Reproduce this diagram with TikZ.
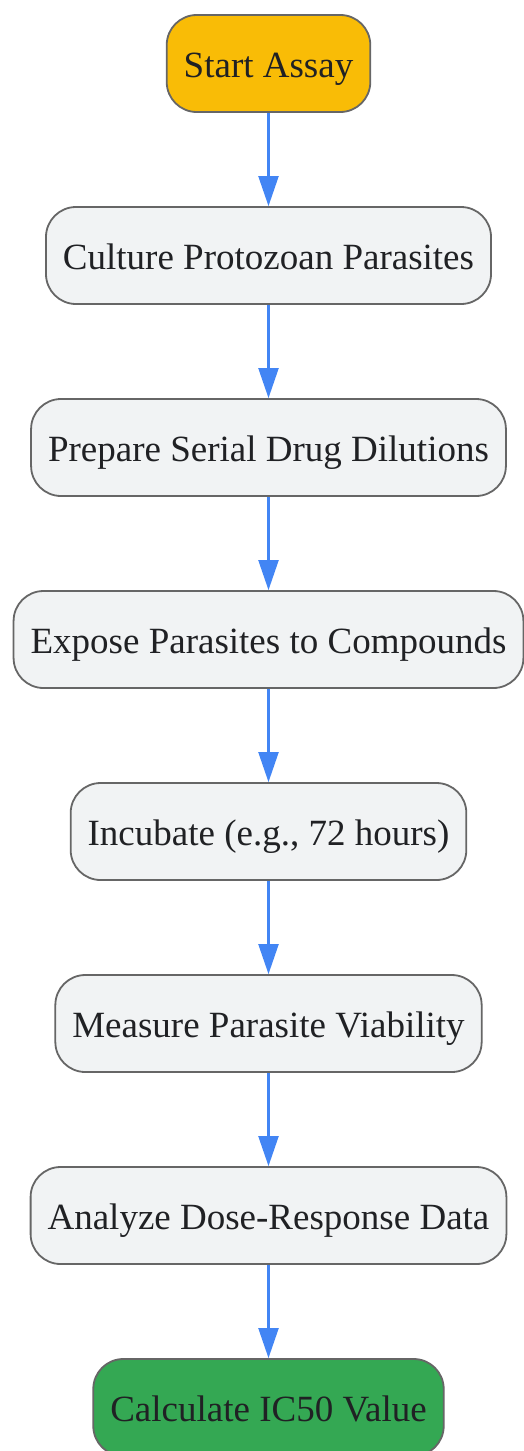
\documentclass[tikz,border=0pt]{standalone}
\usepackage{fontspec}
\setmainfont{Liberation Serif}
\usetikzlibrary{positioning,arrows.meta}
\definecolor{startfill}{HTML}{F9BC06}
\definecolor{endfill}{HTML}{34A853}
\definecolor{stepfill}{HTML}{F1F3F4}
\definecolor{boxline}{HTML}{666666}
\definecolor{flowline}{HTML}{4285F4}
\definecolor{txt}{HTML}{202124}
\tikzset{
	stepbox/.style={draw=boxline, line width=1.8pt, fill=stepfill, rounded corners=30pt,
		minimum height=97pt, inner xsep=17pt, text=txt, text height=27pt, text depth=0pt,
		font=\fontsize{37}{44}\selectfont},
	flow/.style={draw=flowline, line width=2.2pt, -{Triangle[length=30pt,width=20pt]}}
}
\begin{document}
\begin{tikzpicture}[node distance=93.2pt]
			\useasboundingbox (0,0) rectangle (523pt,-1451pt);
			\node[stepbox, fill=startfill] (start) at (268.5pt,-63.5pt) {Start Assay};
			\node[stepbox, below=of start] (culture) {Culture Protozoan Parasites};
			\node[stepbox, below=of culture] (dilute) {Prepare Serial Drug Dilutions};
			\node[stepbox, below=of dilute] (expose) {Expose Parasites to Compounds};
			\node[stepbox, below=of expose] (incubate) {Incubate (e.g., 72 hours)};
			\node[stepbox, below=of incubate] (measure) {Measure Parasite Viability};
			\node[stepbox, below=of measure] (analyze) {Analyze Dose-Response Data};
			\node[stepbox, fill=endfill, below=of analyze] (ic50) {Calculate IC50 Value};
			
			\draw[flow] (start) -- (culture);
			\draw[flow] (culture) -- (dilute);
			\draw[flow] (dilute) -- (expose);
			\draw[flow] (expose) -- (incubate);
			\draw[flow] (incubate) -- (measure);
			\draw[flow] (measure) -- (analyze);
			\draw[flow] (analyze) -- (ic50);
			\end{tikzpicture}
\end{document}
